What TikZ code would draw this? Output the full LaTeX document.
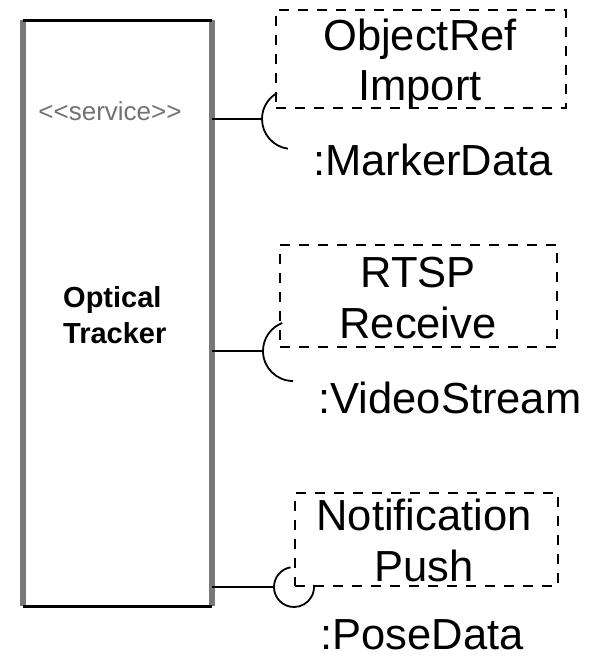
\documentclass[tikz,border=0pt]{standalone}
\usepackage{fontspec}
\setmainfont{Liberation Sans}
\definecolor{sidegray}{gray}{0.47}
\definecolor{stereo}{gray}{0.45}
\tikzset{
  x=1pt, y=-1pt,
  iface/.style={draw=black, line width=2.5pt, dash pattern=on 10pt off 9pt, inner sep=0pt, outer sep=0pt},
  lbl/.style={font=\fontsize{43.5}{50}\selectfont, anchor=base, inner sep=0pt},
  bold/.style={font=\fontsize{29}{36}\bfseries\selectfont, anchor=base west, inner sep=0pt},
  conn/.style={line width=2.5pt, black},
  sock/.style={line width=1.8pt, black},
}
\begin{document}
\begin{tikzpicture}
\useasboundingbox (0,0) rectangle (597,657);
% component
\node[minimum width=189pt, minimum height=586pt, inner sep=0pt, outer sep=0pt] (tracker) at (117.5,313) {};
\draw[line width=6pt, sidegray] (tracker.north west) -- (tracker.south west);
\draw[line width=6pt, sidegray] (tracker.north east) -- (tracker.south east);
\draw[line width=3pt, black] (tracker.north west) -- (tracker.north east);
\draw[line width=3pt, black] (tracker.south west) -- (tracker.south east);
\node[font=\fontsize{26}{30}\selectfont, text=stereo, anchor=base, inner sep=0pt] (stereotype) at (110,120) {<{}<service>{}>};
\node[bold] (opt) at (63,307) {Optical};
\node[bold] (trk) at (63,343) {Tracker};
% interface boxes
\node[iface, minimum width=290pt, minimum height=98pt] (box1) at (421,59) {};
\node[lbl] (b1a) at (420,50) {ObjectRef};
\node[lbl] (b1b) at (420,100) {Import};
\node[lbl] (l1) at (433,175) {:MarkerData};

\node[iface, minimum width=277pt, minimum height=102pt] (box2) at (418.5,296) {};
\node[lbl] (b2a) at (418,287) {RTSP};
\node[lbl] (b2b) at (418,338) {Receive};
\node[lbl] (l2) at (450,413) {:VideoStream};

\node[iface, minimum width=263pt, minimum height=93pt] (box3) at (426.5,539.5) {};
\node[lbl] (b3a) at (424,530) {Notification};
\node[lbl] (b3b) at (424,581) {Push};
\node[lbl] (l3) at (422,649) {:PoseData};

% connectors with sockets
\coordinate (s1) at (262,119);
\draw[conn] (s1 -| tracker.east) -- (s1);
\draw[sock] (s1) arc[start angle=180, end angle=240, radius=30];
\draw[sock] (s1) arc[start angle=180, end angle=98, radius=30];

\coordinate (s2) at (263,351);
\draw[conn] (s2 -| tracker.east) -- (s2);
\draw[sock] (s2) arc[start angle=180, end angle=249, radius=30];
\draw[sock] (s2) arc[start angle=180, end angle=90, radius=30];

\coordinate (s3) at (274,587);
\draw[conn] (s3 -| tracker.east) -- (s3);
\draw[sock] (s3) arc[start angle=180, end angle=260, radius=20];
\draw[sock] (s3) arc[start angle=180, end angle=-6, radius=20];
\end{tikzpicture}
\end{document}
